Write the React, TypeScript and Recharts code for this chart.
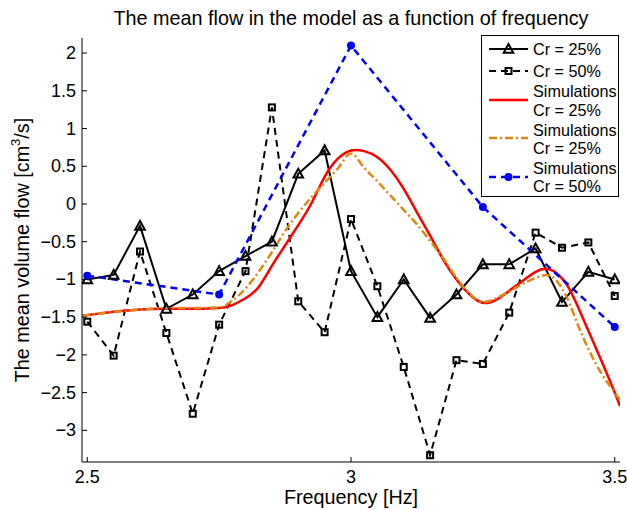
import { LineChart, Line, XAxis, YAxis, Legend } from "recharts";

// measurement frequencies [Hz]
const freq = [
  2.5, 2.55, 2.6, 2.65, 2.7, 2.75, 2.8, 2.85, 2.9, 2.95, 3.0, 3.05, 3.1, 3.15,
  3.2, 3.25, 3.3, 3.35, 3.4, 3.45, 3.5,
];
const cr25 = [
  -1.0, -0.94, -0.29, -1.39, -1.2, -0.89, -0.69, -0.5, 0.4, 0.71, -0.89, -1.5,
  -1.0, -1.51, -1.2, -0.8, -0.8, -0.59, -1.3, -0.9, -1.0,
];
const cr50 = [
  -1.56, -2.01, -0.63, -1.71, -2.78, -1.6, -0.89, 1.28, -1.29, -1.7, -0.2,
  -1.09, -2.16, -3.33, -2.07, -2.12, -1.44, -0.38, -0.58, -0.51, -1.22,
];

// simulation curves
const curveFreq = [
  2.49, 2.525, 2.55, 2.6, 2.65, 2.7, 2.75, 2.775, 2.8, 2.825, 2.85, 2.875, 2.9,
  2.925, 2.95, 2.975, 3.0, 3.025, 3.05, 3.075, 3.1, 3.125, 3.15, 3.175, 3.2,
  3.225, 3.25, 3.275, 3.3, 3.325, 3.35, 3.37, 3.39, 3.41, 3.43, 3.45, 3.475,
  3.5, 3.51,
];
const simRed = [
  -1.48, -1.45, -1.43, -1.4, -1.39, -1.39, -1.38, -1.34, -1.25, -1.1, -0.82,
  -0.55, -0.28, 0.01, 0.36, 0.6, 0.71, 0.7, 0.62, 0.45, 0.2, -0.11, -0.42,
  -0.74, -1.0, -1.2, -1.31, -1.27, -1.15, -1.02, -0.9, -0.86, -0.92, -1.08,
  -1.36, -1.68, -2.08, -2.5, -2.68,
];
const simOrange = [
  -1.48, -1.45, -1.43, -1.4, -1.38, -1.38, -1.37, -1.28, -1.12, -0.9, -0.64,
  -0.36, -0.12, 0.09, 0.28, 0.47, 0.67, 0.48, 0.3, 0.11, -0.08, -0.27, -0.49,
  -0.72, -0.98, -1.19, -1.3, -1.25, -1.16, -1.06, -0.98, -0.94, -1.02, -1.25,
  -1.6, -1.92, -2.25, -2.5, -2.6,
];

const simFreq = [2.5, 2.75, 3.0, 3.25, 3.5];
const sim50 = [-0.95, -1.2, 2.1, -0.04, -1.63];

const xTicks = [2.5, 3, 3.5];
const yTicks = [-3, -2.5, -2, -1.5, -1, -0.5, 0, 0.5, 1, 1.5, 2];

const toPoints = (xs: number[], ys: number[]) =>
  xs.map((x, i) => ({ x, y: ys[i] }));

const cr25Data = toPoints(freq, cr25);
const cr50Data = toPoints(freq, cr50);
const redData = toPoints(curveFreq, simRed);
const orangeData = toPoints(curveFreq, simOrange);
const blueData = toPoints(simFreq, sim50);

const FONT = '"Liberation Sans", Arial, Helvetica, sans-serif';
const ORANGE = "#de8a10";
const DASH = "7 5";
const DASHDOT = "8 3 2 3";

const fmt = (v: number) => String(v).replace("-", "\u2212");

function YTick({ x, y, payload }: any) {
  return (
    <g>
      <line x1={x} x2={x + 5} y1={y} y2={y} stroke="#000" />
      <text x={x - 6} y={y} textAnchor="end" dominantBaseline="central" fontSize={18} fontFamily={FONT} fill="#000">
        {fmt(payload.value)}
      </text>
    </g>
  );
}

function XTick({ x, y, payload }: any) {
  return (
    <g>
      <line x1={x} x2={x} y1={y} y2={y - 5} stroke="#000" />
      <text x={x} y={y + 15} textAnchor="middle" dominantBaseline="central" fontSize={18} fontFamily={FONT} fill="#000">
        {fmt(payload.value)}
      </text>
    </g>
  );
}

function YLabel({ viewBox }: any) {
  const cx = viewBox.x + 22;
  const cy = viewBox.y + viewBox.height / 2;
  return (
    <text x={cx} y={cy} transform={`rotate(-90 ${cx} ${cy})`} textAnchor="middle" dominantBaseline="central" fontSize={19.8} fontFamily={FONT} fill="#000">
      The mean volume flow [cm<tspan dy={-7} fontSize={13}>3</tspan><tspan dy={7}>/s]</tspan>
    </text>
  );
}

function XLabel({ viewBox }: any) {
  return (
    <text x={viewBox.x + viewBox.width / 2} y={viewBox.y + 35} textAnchor="middle" dominantBaseline="central" fontSize={19.8} fontFamily={FONT} fill="#000">
      Frequency [Hz]
    </text>
  );
}

function Triangle({ cx, cy }: any) {
  if (cx == null || cy == null) return null;
  return (
    <polygon points={`${cx},${cy - 5} ${cx - 4.8},${cy + 3.8} ${cx + 4.8},${cy + 3.8}`} fill="none" stroke="#000" strokeWidth={2} />
  );
}

function Square({ cx, cy }: any) {
  if (cx == null || cy == null) return null;
  return <rect x={cx - 3} y={cy - 3} width={6} height={6} fill="none" stroke="#000" strokeWidth={2} />;
}

function BlueDot({ cx, cy }: any) {
  if (cx == null || cy == null) return null;
  return <circle cx={cx} cy={cy} r={4} fill="#0000ff" />;
}

function LegendBox() {
  const tx = 52;
  const txt = (y: number, s: string) => (
    <text x={tx} y={y} dominantBaseline="central" fontSize={16.2} fontFamily={FONT} fill="#000">
      {s}
    </text>
  );
  return (
    <svg width={138} height={162} style={{ display: "block" }}>
      <rect x={0.5} y={0.5} width={137} height={161} fill="#fff" stroke="#000" />
      <line x1={8} x2={47} y1={14} y2={14} stroke="#000" strokeWidth={2} />
      <Triangle cx={27.5} cy={14} />
      {txt(14, "Cr = 25%")}
      <line x1={8} x2={47} y1={36} y2={36} stroke="#000" strokeWidth={2} strokeDasharray={DASH} />
      <Square cx={27.5} cy={36} />
      {txt(36, "Cr = 50%")}
      <line x1={8} x2={47} y1={65} y2={65} stroke="#ff0000" strokeWidth={2.5} />
      {txt(56, "Simulations")}
      {txt(75, "Cr = 25%")}
      <line x1={8} x2={47} y1={103} y2={103} stroke={ORANGE} strokeWidth={2.5} strokeDasharray={DASHDOT} />
      {txt(95, "Simulations")}
      {txt(113, "Cr = 25%")}
      <line x1={8} x2={47} y1={142} y2={142} stroke="#0000ff" strokeWidth={2.5} strokeDasharray={DASH} />
      <BlueDot cx={27.5} cy={142} />
      {txt(133, "Simulations")}
      {txt(151, "Cr = 50%")}
    </svg>
  );
}

export default function App() {
  return (
    <div style={{ position: "absolute", left: 0, top: 0, width: 627, height: 510, background: "#fff" }}>
      <div
        style={{
          position: "absolute",
          left: 0,
          width: 702,
          top: 6,
          textAlign: "center",
          fontFamily: FONT,
          fontSize: 19.8,
          lineHeight: "24px",
          color: "#000",
        }}
      >
        The mean flow in the model as a function of frequency
      </div>
      <LineChart width={627} height={510} margin={{ top: 38, right: 7, bottom: 0, left: 0 }}>
        <XAxis
          dataKey="x"
          type="number"
          domain={[2.49, 3.51]}
          ticks={xTicks}
          allowDataOverflow
          height={48}
          tickSize={0}
          tickMargin={0}
          tick={<XTick />}
          tickLine={false}
          axisLine={{ stroke: "#000" }}
          label={<XLabel />}
        />
        <YAxis
          type="number"
          domain={[-3.42, 2.2]}
          ticks={yTicks}
          allowDataOverflow
          width={82}
          tickSize={0}
          tickMargin={0}
          tick={<YTick />}
          tickLine={false}
          axisLine={{ stroke: "#000" }}
          label={<YLabel />}
        />
        <Line data={cr25Data} dataKey="y" stroke="#000" strokeWidth={2} dot={<Triangle />} activeDot={false} isAnimationActive={false} />
        <Line data={cr50Data} dataKey="y" stroke="#000" strokeWidth={2} strokeDasharray={DASH} dot={<Square />} activeDot={false} isAnimationActive={false} />
        <Line data={redData} dataKey="y" type="natural" stroke="#ff0000" strokeWidth={2.5} dot={false} activeDot={false} isAnimationActive={false} />
        <Line data={orangeData} dataKey="y" type="monotone" stroke={ORANGE} strokeWidth={2.5} strokeDasharray={DASHDOT} dot={false} activeDot={false} isAnimationActive={false} />
        <Line data={blueData} dataKey="y" stroke="#0000ff" strokeWidth={2.5} strokeDasharray={DASH} dot={<BlueDot />} activeDot={false} isAnimationActive={false} />
        <Legend
          verticalAlign="middle"
          align="center"
          layout="horizontal"
          content={<LegendBox />}
          wrapperStyle={{ left: 481, top: 35, width: 138, height: 162 }}
        />
      </LineChart>
    </div>
  );
}
